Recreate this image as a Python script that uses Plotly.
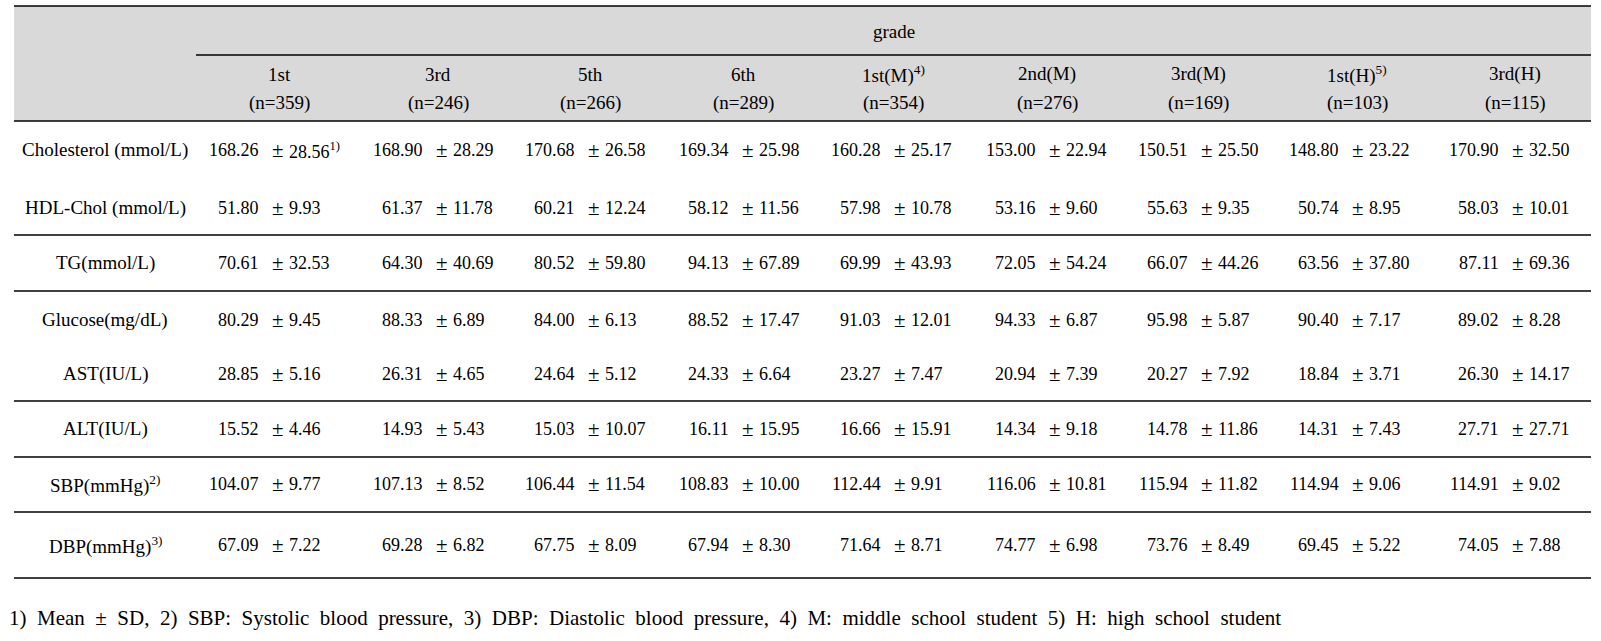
import plotly.graph_objects as go

# ---------------- data ----------------
grades = ["1st", "3rd", "5th", "6th", "1st(M)<sup>4)</sup>", "2nd(M)", "3rd(M)", "1st(H)<sup>5)</sup>", "3rd(H)"]
n_values = [359, 246, 266, 289, 354, 276, 169, 103, 115]
variables = ["Cholesterol (mmol/L)", "HDL-Chol (mmol/L)", "TG(mmol/L)", "Glucose(mg/dL)",
             "AST(IU/L)", "ALT(IU/L)", "SBP(mmHg)<sup>2)</sup>", "DBP(mmHg)<sup>3)</sup>"]
cholesterol_mean = ["168.26", "168.90", "170.68", "169.34", "160.28", "153.00", "150.51", "148.80", "170.90"]
cholesterol_sd = ["28.56<sup>1)</sup>", "28.29", "26.58", "25.98", "25.17", "22.94", "25.50", "23.22", "32.50"]
hdl_mean = ["51.80", "61.37", "60.21", "58.12", "57.98", "53.16", "55.63", "50.74", "58.03"]
hdl_sd = ["9.93", "11.78", "12.24", "11.56", "10.78", "9.60", "9.35", "8.95", "10.01"]
tg_mean = ["70.61", "64.30", "80.52", "94.13", "69.99", "72.05", "66.07", "63.56", "87.11"]
tg_sd = ["32.53", "40.69", "59.80", "67.89", "43.93", "54.24", "44.26", "37.80", "69.36"]
glucose_mean = ["80.29", "88.33", "84.00", "88.52", "91.03", "94.33", "95.98", "90.40", "89.02"]
glucose_sd = ["9.45", "6.89", "6.13", "17.47", "12.01", "6.87", "5.87", "7.17", "8.28"]
ast_mean = ["28.85", "26.31", "24.64", "24.33", "23.27", "20.94", "20.27", "18.84", "26.30"]
ast_sd = ["5.16", "4.65", "5.12", "6.64", "7.47", "7.39", "7.92", "3.71", "14.17"]
alt_mean = ["15.52", "14.93", "15.03", "16.11", "16.66", "14.34", "14.78", "14.31", "27.71"]
alt_sd = ["4.46", "5.43", "10.07", "15.95", "15.91", "9.18", "11.86", "7.43", "27.71"]
sbp_mean = ["104.07", "107.13", "106.44", "108.83", "112.44", "116.06", "115.94", "114.94", "114.91"]
sbp_sd = ["9.77", "8.52", "11.54", "10.00", "9.91", "10.81", "11.82", "9.06", "9.02"]
dbp_mean = ["67.09", "69.28", "67.75", "67.94", "71.64", "74.77", "73.76", "69.45", "74.05"]
dbp_sd = ["7.22", "6.82", "8.09", "8.30", "8.71", "6.98", "8.49", "5.22", "7.88"]
header_title = "grade"
footnote = ("1) Mean ± SD, 2) SBP: Systolic blood pressure, 3) DBP: Diastolic blood pressure, "
            "4) M: middle school student 5) H: high school student")

means = [cholesterol_mean, hdl_mean, tg_mean, glucose_mean, ast_mean, alt_mean, sbp_mean, dbp_mean]
sds = [cholesterol_sd, hdl_sd, tg_sd, glucose_sd, ast_sd, alt_sd, sbp_sd, dbp_sd]

# ---------------- layout constants ----------------
W, H = 1601, 641
FONT = "Liberation Serif"
FS_NUM = 18
FS_LAB = 19
TABLE_L, TABLE_R = 14, 1591
DATA_L = 196
TOP_Y, SUB_Y, HEAD_Y = 6, 55, 121
col_centers = [279, 438, 590, 743, 893, 1047, 1198, 1357, 1515]
pm_x = [278, 442, 594, 748, 900, 1055, 1207, 1358, 1518]
row_y = [150, 208, 263, 320, 374, 429, 484, 545]
row_lines = [235, 291, 401, 457, 512, 578]
label_x = 105

fig = go.Figure()
shapes = []
shapes.append(dict(type="rect", xref="x", yref="y", x0=TABLE_L, x1=TABLE_R, y0=TOP_Y, y1=HEAD_Y,
                   fillcolor="#d9d9d9", line=dict(width=0), layer="below"))
line_style = dict(color="black", width=1.3)
for y in [TOP_Y, HEAD_Y] + row_lines:
    shapes.append(dict(type="line", xref="x", yref="y", x0=TABLE_L, x1=TABLE_R, y0=y, y1=y, line=line_style))
shapes.append(dict(type="line", xref="x", yref="y", x0=DATA_L, x1=TABLE_R, y0=SUB_Y, y1=SUB_Y, line=line_style))

ann = []
font_lab = dict(family=FONT, size=FS_LAB, color="black")
font_num = dict(family=FONT, size=FS_NUM, color="black")
font_pm = dict(family=FONT, size=21, color="black")
font_foot = dict(family=FONT, size=21, color="black")
ann.append(dict(x=(DATA_L + TABLE_R) / 2, y=31, text=header_title, showarrow=False, font=font_lab,
                xanchor="center", yanchor="middle"))
for cx, g, n in zip(col_centers, grades, n_values):
    ann.append(dict(x=cx, y=74, text=g, showarrow=False, font=font_lab, xanchor="center", yanchor="middle"))
    ann.append(dict(x=cx, y=103, text=f"(n={n})", showarrow=False, font=font_lab, xanchor="center", yanchor="middle"))

for ry, lab, mrow, srow in zip(row_y, variables, means, sds):
    ann.append(dict(x=label_x, y=ry, text=lab, showarrow=False, font=font_lab, xanchor="center", yanchor="middle"))
    for px, m, s in zip(pm_x, mrow, srow):
        ann.append(dict(x=px - 18, y=ry, text=m, showarrow=False, font=font_num, xanchor="right", yanchor="middle"))
        ann.append(dict(x=px, y=ry, text="±", showarrow=False, font=font_pm, xanchor="center", yanchor="middle"))
        ann.append(dict(x=px + 10, y=ry, text=s, showarrow=False, font=font_num, xanchor="left", yanchor="middle"))

ann.append(dict(x=8, y=618, text=footnote.replace(" ", "\u00a0\u00a0"), showarrow=False, font=font_foot,
                xanchor="left", yanchor="middle"))

for a in ann:
    a["xref"] = "x"
    a["yref"] = "y"
    a["borderpad"] = 0

fig.update_layout(
    width=W, height=H, margin=dict(l=0, r=0, t=0, b=0),
    paper_bgcolor="white", plot_bgcolor="white",
    xaxis=dict(range=[0, W], visible=False, fixedrange=True),
    yaxis=dict(range=[H, 0], visible=False, fixedrange=True),
    shapes=shapes, annotations=ann, showlegend=False,
)
fig.write_html("out.html", config={"displayModeBar": False},
               post_script="document.body.style.margin='0';")
